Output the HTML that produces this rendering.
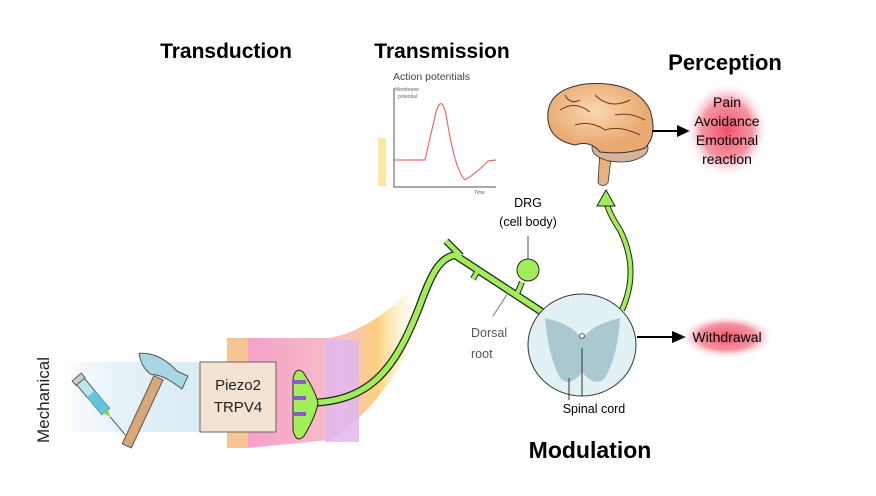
<!DOCTYPE html>
<html><head><meta charset="utf-8"><style>
html,body{margin:0;padding:0;background:#fff;}
svg{display:block;font-family:"Liberation Sans",sans-serif;}
</style></head><body>
<svg width="876" height="496" viewBox="0 0 876 496" xmlns="http://www.w3.org/2000/svg">
<defs>
<radialGradient id="glow"><stop offset="0" stop-color="#f0506a"/><stop offset="0.6" stop-color="#f27a8c" stop-opacity="0.8"/><stop offset="1" stop-color="#fff" stop-opacity="0"/></radialGradient>
<linearGradient id="band" x1="0" x2="1"><stop offset="0" stop-color="#fff"/><stop offset="0.4" stop-color="#e6f2f8"/><stop offset="1" stop-color="#d8ebf3"/></linearGradient>
<linearGradient id="skinfade" x1="0" x2="1"><stop offset="0" stop-color="#f6a0c8"/><stop offset="0.55" stop-color="#f7c0c8"/><stop offset="0.75" stop-color="#fbd07a"/><stop offset="1" stop-color="#fffbd0" stop-opacity="0"/></linearGradient>
<radialGradient id="brain" cx="0.45" cy="0.4"><stop offset="0" stop-color="#fbd7b0"/><stop offset="1" stop-color="#e9a972"/></radialGradient>
</defs>
<!-- titles -->
<text x="226" y="58" font-size="21" font-weight="bold" text-anchor="middle">Transduction</text>
<text x="442" y="58" font-size="21" font-weight="bold" text-anchor="middle">Transmission</text>
<text x="725" y="70" font-size="22" font-weight="bold" text-anchor="middle">Perception</text>
<text x="590" y="458" font-size="23" font-weight="bold" text-anchor="middle">Modulation</text>
<!-- graph -->
<text x="393" y="80" font-size="10.5" fill="#444">Action potentials</text>
<text x="395" y="91" font-size="5" fill="#666">Membrane</text>
<text x="398" y="98" font-size="5" fill="#666">potential</text>
<text x="474" y="194" font-size="5" fill="#666">Time</text>
<path d="M394 88 V187 H496" stroke="#555" stroke-width="1" fill="none"/>
<path d="M394 160 H425 L436 112 Q442 92 447 120 Q455 170 465 180 Q478 172 488 161 L496 160" stroke="#ee6a6a" stroke-width="1.2" fill="none"/>
<rect x="378" y="138" width="8" height="48" fill="#fbe08a" opacity="0.8"/>
<!-- left stimulus -->
<rect x="60" y="362" width="142" height="70" fill="url(#band)"/>
<text transform="translate(49,400) rotate(-90)" font-size="17" text-anchor="middle" fill="#222">Mechanical</text>
<g transform="translate(96,400) rotate(50)">
<rect x="-25" y="-5" width="40" height="10" fill="#bfe6ee" stroke="#555" stroke-width="1"/>
<rect x="-8" y="-5" width="23" height="10" fill="#5fc6dd"/>
<rect x="-30" y="-6" width="6" height="12" fill="#ccc" stroke="#555"/>
<path d="M15 -3 L22 0 L15 3Z" fill="#9ccf50"/>
<line x1="22" y1="0" x2="46" y2="0" stroke="#555" stroke-width="1"/>
</g>
<g transform="translate(150,396) rotate(25)">
<rect x="-5" y="-20" width="10" height="75" fill="#d8a878" stroke="#555"/>
<path d="M-28 -34 Q-10 -44 14 -34 L26 -34 L26 -20 L14 -22 Q0 -24 -8 -20 Q-20 -22 -28 -34Z" fill="#a8d6e4" stroke="#555"/>
</g>
<!-- skin -->
<rect x="227" y="338" width="22" height="110" fill="#f7c493"/>
<path d="M248 338 H330 Q370 330 410 290 L420 330 Q380 410 330 440 L248 448Z" fill="url(#skinfade)"/>
<rect x="325" y="340" width="34" height="102" fill="#e0b8ec" opacity="0.85"/>
<rect x="200" y="362" width="76" height="70" fill="#f2e3d3" stroke="#666" stroke-width="1"/>
<text x="238" y="390" font-size="15" text-anchor="middle" fill="#222">Piezo2</text>
<text x="238" y="412" font-size="15" text-anchor="middle" fill="#222">TRPV4</text>
<!-- nerve -->
<g fill="none" stroke-linecap="butt" stroke-linejoin="round">
<path d="M305 403 C370 403 395 370 420 305 C432 272 440 258 455 255 L542 312" stroke="#222" stroke-width="8"/>
<path d="M446 241 L461 256" stroke="#222" stroke-width="7"/>
<path d="M478 270 L473 279 M517 294 L522 282" stroke="#222" stroke-width="6"/>
<path d="M305 403 C370 403 395 370 420 305 C432 272 440 258 455 255 L542 312" stroke="#a2ee5a" stroke-width="5.5"/>
<path d="M446 241 L461 256" stroke="#a2ee5a" stroke-width="4.5"/>
<path d="M478 270 L473 279 M517 294 L522 282" stroke="#a2ee5a" stroke-width="4"/>
</g>
<path d="M293 380 Q295 366 303 372 Q316 392 318 403 Q316 416 304 436 Q296 444 293 430 Z" fill="#a2ee5a" stroke="#222" stroke-width="1"/>
<circle cx="528" cy="270" r="11" fill="#a2ee5a" stroke="#222"/>
<line x1="528" y1="236" x2="528" y2="259" stroke="#555"/>
<line x1="508" y1="293" x2="493" y2="316" stroke="#777"/>
<path d="M292 382 H306 M292 398 H306 M292 414 H306" stroke="#8a5ec0" stroke-width="4"/>
<text x="528" y="207" font-size="12.5" text-anchor="middle">DRG</text>
<text x="528" y="226" font-size="12.5" text-anchor="middle">(cell body)</text>
<text x="471" y="337" font-size="12.5" fill="#555">Dorsal</text>
<text x="471" y="358" font-size="12.5" fill="#555">root</text>
<!-- spinal cord -->
<ellipse cx="582" cy="345" rx="54" ry="51" fill="#e2f1f3" stroke="#333" stroke-width="1"/>
<path d="M545 318 Q575 325 582 340 Q590 325 620 318 Q618 355 605 378 Q595 388 582 372 Q570 388 560 378 Q548 355 545 318Z" fill="#a9c9cf"/>
<circle cx="582" cy="336" r="2.5" fill="#fff" stroke="#333" stroke-width="0.8"/>
<line x1="582" y1="348" x2="582" y2="396" stroke="#333"/>
<line x1="569" y1="378" x2="569" y2="400" stroke="#333"/>
<text x="594" y="413" font-size="12.5" text-anchor="middle">Spinal cord</text>
<!-- ascending arrow -->
<path d="M622 310 Q640 270 620 230 Q608 212 606 200" stroke="#222" stroke-width="6" fill="none"/>
<path d="M622 310 Q640 270 620 230 Q608 212 606 200" stroke="#a2ee5a" stroke-width="4" fill="none"/>
<path d="M606 190 L597 206 L615 206Z" fill="#a2ee5a" stroke="#222"/>
<!-- brain -->
<path d="M600 150 L598 183 Q603 188 608 183 L612 150Z" fill="#e9b080" stroke="#333" stroke-width="0.8"/>
<ellipse cx="620" cy="148" rx="28" ry="14" fill="#d6b49a" stroke="#333" stroke-width="0.8"/>
<path d="M548 120 Q545 90 585 84 Q635 80 650 110 Q658 135 645 148 Q625 155 600 152 Q590 140 575 145 Q550 140 548 120Z" fill="url(#brain)" stroke="#333" stroke-width="1"/>
<path d="M560 110 Q575 100 590 112 M595 95 Q610 110 630 100 M575 125 Q590 120 605 130 Q620 125 640 135 M565 95 Q570 105 580 100 M615 115 Q630 112 645 120" stroke="#6a3a1a" stroke-width="1" fill="none"/>
<!-- arrows -->
<line x1="652" y1="131" x2="680" y2="131" stroke="#000" stroke-width="2"/>
<path d="M690 131 L677 125 L677 137Z"/>
<line x1="637" y1="337" x2="674" y2="337" stroke="#000" stroke-width="2"/>
<path d="M686 337 L672 331 L672 343Z"/>
<!-- outcomes -->
<ellipse cx="727" cy="130" rx="42" ry="48" fill="url(#glow)"/>
<text x="727" y="107" font-size="14" text-anchor="middle">Pain</text>
<text x="727" y="126" font-size="14" text-anchor="middle">Avoidance</text>
<text x="727" y="145" font-size="14" text-anchor="middle">Emotional</text>
<text x="727" y="164" font-size="14" text-anchor="middle">reaction</text>
<ellipse cx="727" cy="337" rx="48" ry="22" fill="url(#glow)"/>
<text x="727" y="342" font-size="14" text-anchor="middle">Withdrawal</text>
</svg>
</body></html>
